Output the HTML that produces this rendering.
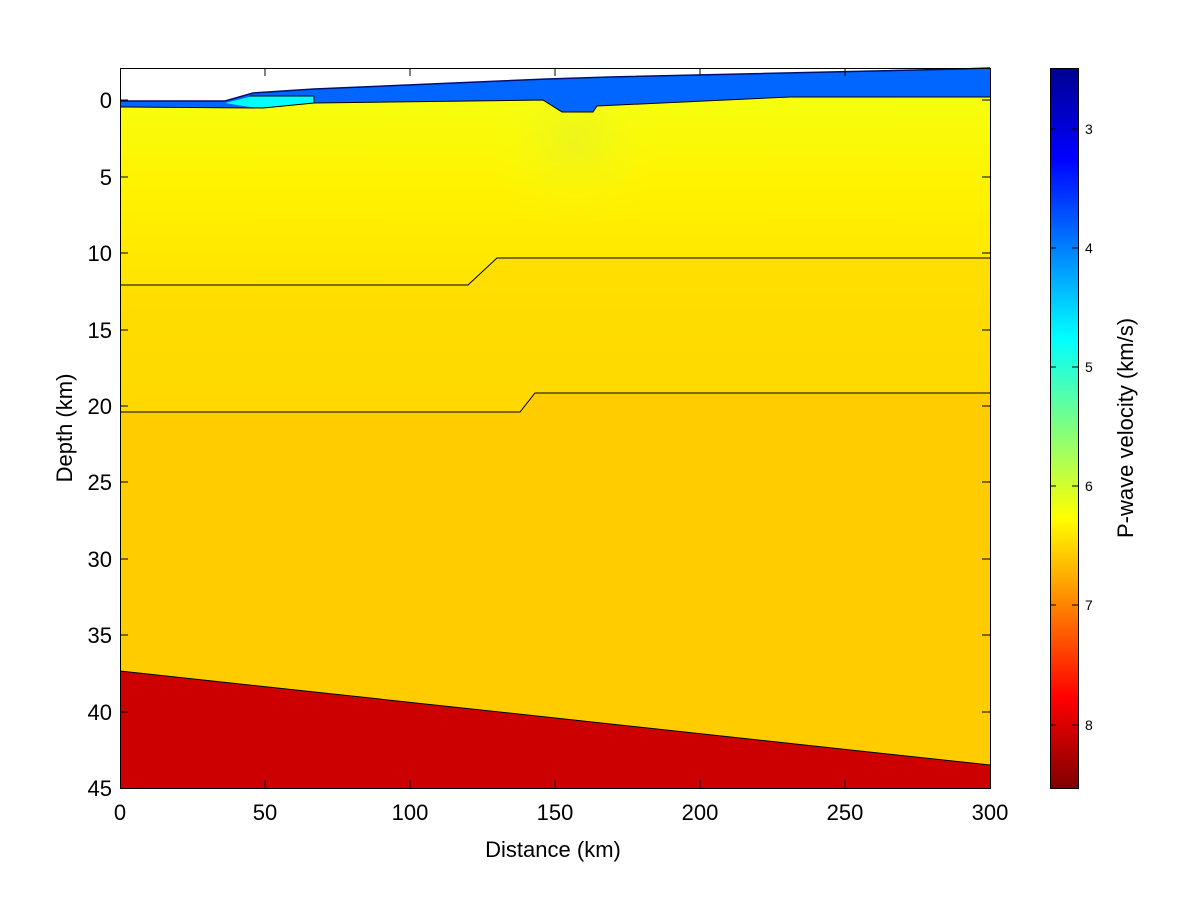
<!DOCTYPE html>
<html><head><meta charset="utf-8"><style>
html,body{margin:0;padding:0;background:#fff;}
svg{display:block;font-family:"Liberation Sans",sans-serif;}
</style></head><body>
<svg width="1200" height="900" viewBox="0 0 1200 900" xmlns="http://www.w3.org/2000/svg">
<defs>
<linearGradient id="l1" x1="0" y1="0" x2="0" y2="1">
<stop offset="0" stop-color="#f6ff0e"/><stop offset="0.5" stop-color="#fff200"/><stop offset="1" stop-color="#ffe400"/>
</linearGradient>
<linearGradient id="l2" x1="0" y1="0" x2="0" y2="1">
<stop offset="0" stop-color="#ffdf00"/><stop offset="1" stop-color="#ffd800"/>
</linearGradient>
<radialGradient id="gs" cx="575" cy="140" r="90" gradientUnits="userSpaceOnUse">
<stop offset="0" stop-color="#e0f030" stop-opacity="0.5"/><stop offset="1" stop-color="#f6ff0e" stop-opacity="0"/>
</radialGradient>
<linearGradient id="jet" x1="0" y1="0" x2="0" y2="1">
<stop offset="0" stop-color="#00008f"/><stop offset="0.125" stop-color="#0000ff"/><stop offset="0.375" stop-color="#00ffff"/><stop offset="0.625" stop-color="#ffff00"/><stop offset="0.875" stop-color="#ff0000"/><stop offset="1" stop-color="#800000"/>
</linearGradient>
</defs>
<rect x="120" y="68" width="870" height="720" fill="#fff"/>
<rect x="120" y="250" width="870" height="538" fill="#ffcc00"/>
<polygon points="120,107 263,108 314,103 543,100 562,112 593,112 597,106 790,97 990,97 990,258 497,258 468,285 120,285" fill="url(#l1)"/>
<rect x="120" y="100" width="870" height="160" fill="url(#gs)"/>
<polygon points="120,412 520,412 535,393 990,393 990,258 497,258 468,285 120,285" fill="url(#l2)"/>
<polygon points="120,101 225,101 253,93 314,89 547,79 610,77 960,69 990,68 990,97 790,97 597,106 593,112 562,112 543,100 314,103 263,108 120,107" fill="#0066ff"/>
<polygon points="225,103 253,96 314,96 314,103 263,108 250,107" fill="#00ffff"/>
<polyline points="120,101 225,101 253,93 314,89 547,79 610,77 960,69 990,68" fill="none" stroke="#001070" stroke-width="1.5"/>
<polyline points="120,107 263,108 314,103 543,100 562,112 593,112 597,106 790,97 990,97" fill="none" stroke="#000" stroke-width="1"/>
<line x1="314" y1="96" x2="314" y2="103" stroke="#000"/>
<line x1="250" y1="96" x2="314" y2="96" stroke="#000"/>
<polyline points="120,285 468,285 497,258 990,258" fill="none" stroke="#000" stroke-width="1"/>
<polyline points="120,412 520,412 535,393 990,393" fill="none" stroke="#000" stroke-width="1"/>
<polygon points="120,671 990,765 990,788 120,788" fill="#cc0000"/>
<line x1="120" y1="671" x2="990" y2="765" stroke="#000" stroke-width="1"/>
<rect x="120.5" y="68.5" width="870" height="720" fill="none" stroke="#000" stroke-width="1"/>
<g stroke="#000">
<line x1="265" y1="788" x2="265" y2="780"/><line x1="410" y1="788" x2="410" y2="780"/><line x1="555" y1="788" x2="555" y2="780"/><line x1="700" y1="788" x2="700" y2="780"/><line x1="845" y1="788" x2="845" y2="780"/>
<line x1="265" y1="68" x2="265" y2="76"/><line x1="410" y1="68" x2="410" y2="76"/><line x1="555" y1="68" x2="555" y2="76"/><line x1="700" y1="68" x2="700" y2="76"/><line x1="845" y1="68" x2="845" y2="76"/>
<line x1="120" y1="100" x2="128" y2="100"/><line x1="120" y1="177" x2="128" y2="177"/><line x1="120" y1="253" x2="128" y2="253"/><line x1="120" y1="330" x2="128" y2="330"/><line x1="120" y1="406" x2="128" y2="406"/><line x1="120" y1="482" x2="128" y2="482"/><line x1="120" y1="559" x2="128" y2="559"/><line x1="120" y1="635" x2="128" y2="635"/><line x1="120" y1="712" x2="128" y2="712"/>
<line x1="990" y1="100" x2="982" y2="100"/><line x1="990" y1="177" x2="982" y2="177"/><line x1="990" y1="253" x2="982" y2="253"/><line x1="990" y1="330" x2="982" y2="330"/><line x1="990" y1="406" x2="982" y2="406"/><line x1="990" y1="482" x2="982" y2="482"/><line x1="990" y1="559" x2="982" y2="559"/><line x1="990" y1="635" x2="982" y2="635"/><line x1="990" y1="712" x2="982" y2="712"/>
</g>
<g font-size="22" text-anchor="middle" fill="#000">
<text x="120" y="820">0</text><text x="265" y="820">50</text><text x="410" y="820">100</text><text x="555" y="820">150</text><text x="700" y="820">200</text><text x="845" y="820">250</text><text x="990" y="820">300</text>
</g>
<g font-size="22" text-anchor="end" fill="#000">
<text x="112" y="108">0</text><text x="112" y="185">5</text><text x="112" y="261">10</text><text x="112" y="338">15</text><text x="112" y="414">20</text><text x="112" y="490">25</text><text x="112" y="567">30</text><text x="112" y="643">35</text><text x="112" y="720">40</text><text x="112" y="796">45</text>
</g>
<text x="553" y="857" font-size="22" text-anchor="middle">Distance (km)</text>
<text transform="translate(72,428) rotate(-90)" font-size="22" text-anchor="middle">Depth (km)</text>
<rect x="1050" y="68" width="28" height="720" fill="url(#jet)"/>
<rect x="1050.5" y="68.5" width="28" height="720" fill="none" stroke="#000"/>
<g stroke="#000">
<line x1="1078" y1="129" x2="1072" y2="129"/><line x1="1078" y1="248" x2="1072" y2="248"/><line x1="1078" y1="367" x2="1072" y2="367"/><line x1="1078" y1="486" x2="1072" y2="486"/><line x1="1078" y1="605" x2="1072" y2="605"/><line x1="1078" y1="725" x2="1072" y2="725"/>
<line x1="1050" y1="129" x2="1056" y2="129"/><line x1="1050" y1="248" x2="1056" y2="248"/><line x1="1050" y1="367" x2="1056" y2="367"/><line x1="1050" y1="486" x2="1056" y2="486"/><line x1="1050" y1="605" x2="1056" y2="605"/><line x1="1050" y1="725" x2="1056" y2="725"/>
</g>
<g font-size="14" fill="#000">
<text x="1085" y="134">3</text><text x="1085" y="253">4</text><text x="1085" y="372">5</text><text x="1085" y="491">6</text><text x="1085" y="610">7</text><text x="1085" y="730">8</text>
</g>
<text transform="translate(1133,428) rotate(-90)" font-size="22" text-anchor="middle">P-wave velocity (km/s)</text>
</svg>
</body></html>
